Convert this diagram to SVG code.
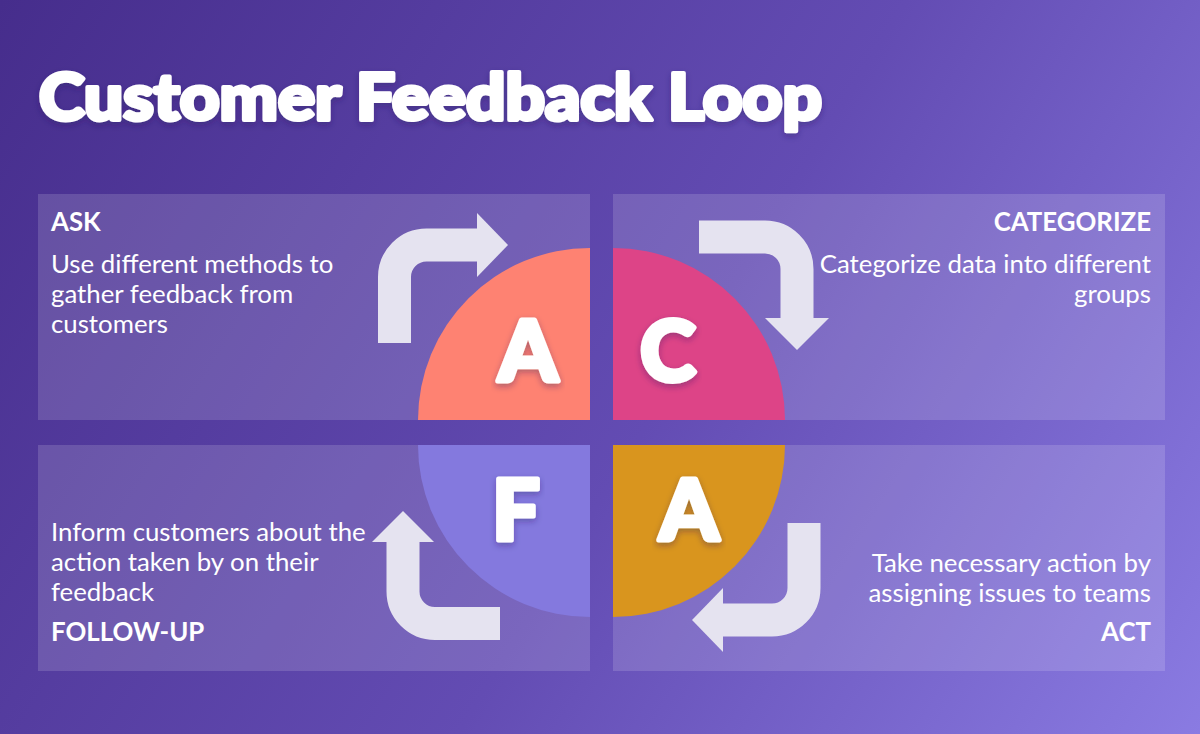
<svg xmlns="http://www.w3.org/2000/svg" width="1200" height="734" viewBox="0 0 1200 734">
<defs>
<linearGradient id="bg" x1="0" y1="0" x2="1200" y2="734" gradientUnits="userSpaceOnUse">
<stop offset="0" stop-color="#462D8C"/>
<stop offset="0.55" stop-color="#634CB3"/>
<stop offset="1" stop-color="#8A7BE2"/>
</linearGradient>
<filter id="sh" x="-10%" y="-20%" width="120%" height="150%">
<feDropShadow dx="0" dy="3" stdDeviation="3" flood-color="#2a1560" flood-opacity="0.35"/>
</filter>
<style>
.panel{fill:#ffffff;fill-opacity:0.15}
.head{font-family:Lato,"Liberation Sans",sans-serif;font-weight:700;font-size:25.8px;fill:#ffffff}
.body{font-family:Lato,"Liberation Sans",sans-serif;font-weight:400;font-size:25.8px;fill:#ffffff}
.big{font-family:Lato,"Liberation Sans",sans-serif;font-weight:900;font-size:84px;fill:#ffffff;stroke:#ffffff;stroke-width:5;stroke-linejoin:round;text-anchor:middle}
.shaft{fill:none;stroke:#E5E3F0;stroke-width:33}
.head2{fill:#E5E3F0}
.r{text-anchor:end}
</style>
</defs>
<rect width="1200" height="734" fill="url(#bg)"/>
<text x="39" y="120" font-family="Lato,'Liberation Sans',sans-serif" font-weight="900" font-size="64" fill="#ffffff" stroke="#ffffff" stroke-width="4" stroke-linejoin="round" textLength="783" lengthAdjust="spacingAndGlyphs" filter="url(#sh)">Customer Feedback Loop</text>

<g id="ask">
<rect class="panel" x="38" y="194" width="552" height="226"/>
<text class="head" x="51" y="231">ASK</text>
<text class="body" x="51" y="273">Use different methods to</text>
<text class="body" x="51" y="303">gather feedback from</text>
<text class="body" x="51" y="333">customers</text>
</g>
<g id="categorize">
<rect class="panel" x="613" y="194" width="552" height="226"/>
<text class="head r" x="1151" y="231">CATEGORIZE</text>
<text class="body r" x="1151" y="273">Categorize data into different</text>
<text class="body r" x="1151" y="303">groups</text>
</g>
<g id="follow-up">
<rect class="panel" x="38" y="445" width="552" height="226"/>
<text class="body" x="51" y="541">Inform customers about the</text>
<text class="body" x="51" y="571">action taken by on their</text>
<text class="body" x="51" y="601">feedback</text>
<text class="head" x="51" y="641">FOLLOW-UP</text>
</g>
<g id="act">
<rect class="panel" x="613" y="445" width="552" height="226"/>
<text class="body r" x="1151" y="572">Take necessary action by</text>
<text class="body r" x="1151" y="602">assigning issues to teams</text>
<text class="head r" x="1151" y="641">ACT</text>
</g>

<g id="quadrant-a">
<path d="M590,420 L418,420 A172,172 0 0 1 590,248 Z" fill="#FE8272"/>
<text class="big" x="528" y="381" filter="url(#sh)">A</text>
</g>
<g id="quadrant-c">
<path d="M613,420 L613,248 A172,172 0 0 1 785,420 Z" fill="#DD4487"/>
<text class="big" x="668" y="381" filter="url(#sh)">C</text>
</g>
<g id="quadrant-f">
<path d="M590,445 L590,617 A172,172 0 0 1 418,445 Z" fill="#8479DE"/>
<text class="big" x="516" y="540" filter="url(#sh)">F</text>
</g>
<g id="quadrant-a2">
<path d="M613,445 L785,445 A172,172 0 0 1 613,617 Z" fill="#D9951E"/>
<text class="big" x="689" y="540" filter="url(#sh)">A</text>
</g>

<g id="connectors">
<path class="shaft" d="M394.5,343 V277 A32,32 0 0 1 426.5,245 H478"/>
<polygon class="head2" points="477,213 508,245 477,277"/>
<path class="shaft" d="M699,237 H765 A32,32 0 0 1 797,269 V319"/>
<polygon class="head2" points="765,318 797,350 829,318"/>
<path class="shaft" d="M804,523 V588 A32,32 0 0 1 772,620 H722"/>
<polygon class="head2" points="723,588 692,620 723,652"/>
<path class="shaft" d="M500,623.5 H435 A32,32 0 0 1 403,591.5 V541"/>
<polygon class="head2" points="372,542 403,511 434,542"/>
</g>
</svg>
